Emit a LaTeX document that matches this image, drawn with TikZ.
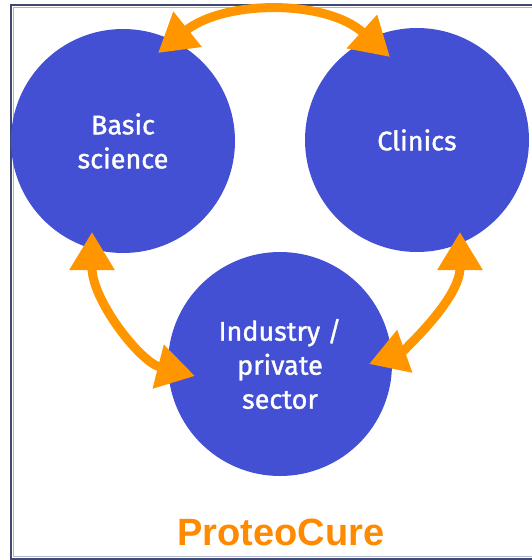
\documentclass[tikz,border=0pt]{standalone}
\usepackage{fontspec}
\setmainfont{Fira Sans}[FakeBold=1.2]
\newfontfamily\logofont{Liberation Sans}
\usetikzlibrary{arrows.meta}
\definecolor{circblue}{RGB}{67,80,212}
\definecolor{arroworange}{RGB}{255,150,0}
\definecolor{logoorange}{RGB}{255,138,0}
\definecolor{framedark}{RGB}{62,72,112}
\definecolor{framelight}{RGB}{175,180,205}
\begin{document}
\begin{tikzpicture}[x=1pt,y=-1pt,
  circ/.style={circle,fill=circblue,minimum size=224pt,inner sep=0pt,text=white,
    font=\fontsize{27}{34}\selectfont\bfseries,align=center},
  dbl/.style={draw=arroworange,line width=9pt,
    {Triangle[length=38pt,width=43pt]}-{Triangle[length=38pt,width=43pt]}},
  logo/.style={text=logoorange,font=\logofont\bfseries\fontsize{38}{40}\selectfont,anchor=base}]
\useasboundingbox (0,0) rectangle (531,560);
% frame
\draw[framelight,line width=1pt] (13.8,7.8) rectangle (545,556.2);
\draw[framedark,line width=2.4pt] (11.2,5.2) rectangle (545,559);
% circles
\node[circ,font=\fontsize{27}{34}\selectfont] (basic) at (123,141) {Basic\\science};
\node[circ,font=\fontsize{27}{34}\selectfont] (clinics) at (417,140) {Clinics};
\node[circ,font=\fontsize{27}{34}\selectfont] (industry) at (280,364) {Industry /\\private\\sector};
% arrow end points
\coordinate (bc1) at (158,53);
\coordinate (bc2) at (390,57);
\coordinate (bi1) at (92,232);
\coordinate (bi2) at (195,376);
\coordinate (ci1) at (460,232);
\coordinate (ci2) at (369,364);
\draw[dbl] (bc1) .. controls (224,0) and (326,-1) .. (bc2);
\draw[dbl] (bi1) .. controls (92,300) and (140,362) .. (bi2);
\draw[dbl] (ci1) .. controls (460,300) and (400,353) .. (ci2);
% title
\node[logo] (title) at (281,545) {ProteoCure};
\end{tikzpicture}
\end{document}
